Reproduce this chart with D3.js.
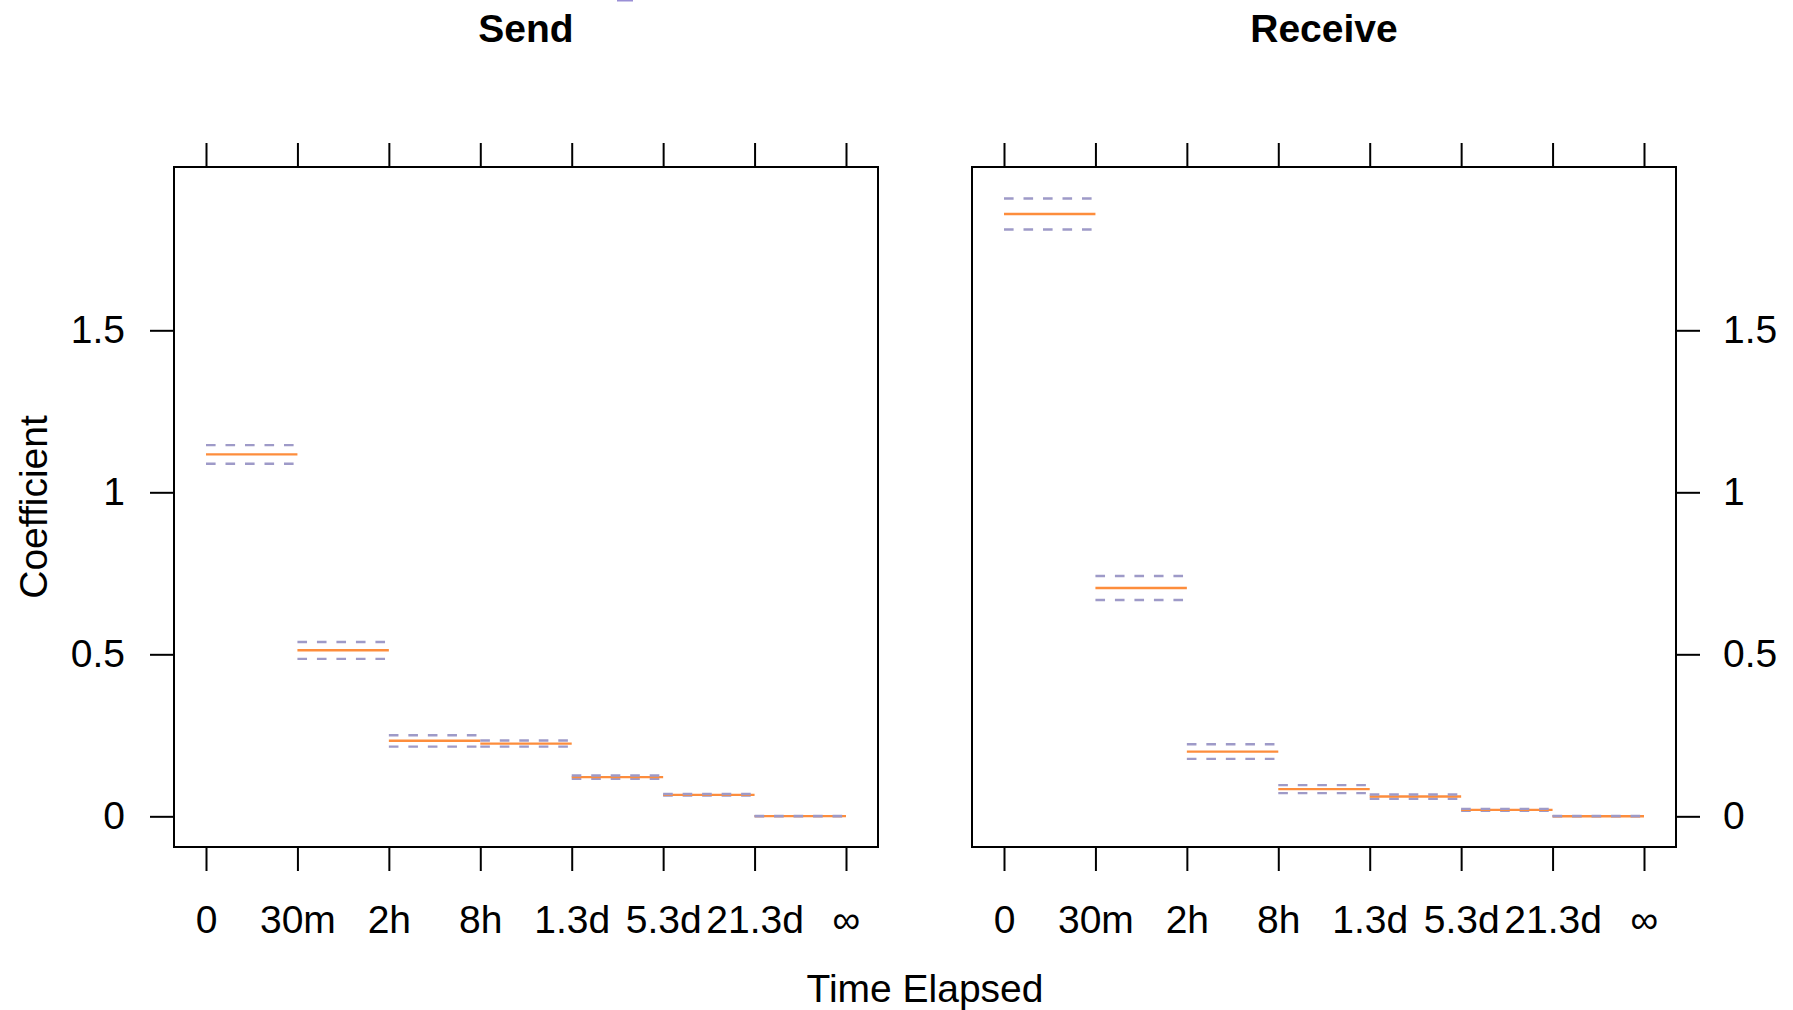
<!DOCTYPE html>
<html>
<head>
<meta charset="utf-8">
<script src="https://cdn.jsdelivr.net/npm/d3@7"></script>
<style>
    body { margin: 0; background: #fff; }
    svg { display: block; font-family: "Liberation Sans", Arial, Helvetica, sans-serif; }
</style>
</head>
<body>
<div id="chart"></div>
<script>
    // data
    const timeLabels = ['0', '30m', '2h', '8h', '1.3d', '5.3d', '21.3d', '\u221e'];
    const panelNames = ['Send', 'Receive'];
    const yTicks = [0, 0.5, 1, 1.5];

    const sendEst   = [1.117, 0.5125, 0.233, 0.2245, 0.121, 0.0663, 0.0006];
    const sendLower = [1.088, 0.486, 0.215, 0.215, 0.116, 0.064, 0.0];
    const sendUpper = [1.1455, 0.538, 0.250, 0.234, 0.126, 0.069, 0.001];

    const recvEst   = [1.859, 0.7046, 0.1998, 0.0839, 0.0611, 0.020, 0.0];
    const recvLower = [1.811, 0.6676, 0.1773, 0.0715, 0.054, 0.017, 0.0];
    const recvUpper = [1.907, 0.7416, 0.2226, 0.0962, 0.0672, 0.0231, 0.001];

    const series = [
        { est: sendEst, lower: sendLower, upper: sendUpper },
        { est: recvEst, lower: recvLower, upper: recvUpper }
    ];

    const width = 1793;
    const height = 1010;
    const fontSize = 39;
    const tickLen = 24;
    const orange = '#FD8D3C';
    const purple = '#9E9AC8';

    const panelLefts = [174, 972];
    const panelWidth = 704;
    const panelTop = 167;
    const panelBottom = 847;

    const svg = d3.select('#chart')
        .append('svg')
        .attr('width', width)
        .attr('height', height);

    svg.append('rect')
        .attr('width', width)
        .attr('height', height)
        .attr('fill', '#fff');

    //y scale shared by both panels
    const y = d3.scaleLinear()
        .domain([-0.0947, 2.004])
        .range([panelBottom, panelTop]);

    function styleAxis(g) {
        g.select('.domain').remove();
        g.selectAll('.tick line')
            .attr('stroke', '#000')
            .attr('stroke-width', 2);
        g.selectAll('.tick text')
            .attr('fill', '#000')
            .style('font-size', fontSize + 'px')
            .style('font-family', '"Liberation Sans", Arial, Helvetica, sans-serif');
    }

    function drawLines(g, x, values, steps, color, width, dash) {
        g.append('g')
            .selectAll('line')
            .data(steps)
            .join('line')
            .attr('x1', i => x(i))
            .attr('x2', i => x(i + 1))
            .attr('y1', i => y(values[i]))
            .attr('y2', i => y(values[i]))
            .attr('stroke', color)
            .attr('stroke-width', width)
            .attr('stroke-dasharray', dash);
    }

    panelNames.forEach((name, p) => {
        const left = panelLefts[p];
        const x = d3.scaleLinear()
            .domain([-0.35, 7.35])
            .range([left, left + panelWidth]);
        const idx = d3.range(timeLabels.length);

        //bottom axis with labels
        svg.append('g')
            .attr('transform', `translate(0,${panelBottom})`)
            .call(d3.axisBottom(x).tickValues(idx).tickSize(tickLen).tickPadding(34)
                .tickFormat(i => timeLabels[i]))
            .call(styleAxis);

        //top axis, ticks only
        svg.append('g')
            .attr('transform', `translate(0,${panelTop})`)
            .call(d3.axisTop(x).tickValues(idx).tickSize(tickLen).tickFormat(''))
            .call(styleAxis);

        //y axis alternates sides
        if (p === 0) {
            svg.append('g')
                .attr('transform', `translate(${left},0)`)
                .call(d3.axisLeft(y).tickValues(yTicks).tickSize(tickLen).tickPadding(25)
                    .tickFormat(d3.format('')))
                .call(styleAxis);
        } else {
            svg.append('g')
                .attr('transform', `translate(${left + panelWidth},0)`)
                .call(d3.axisRight(y).tickValues(yTicks).tickSize(tickLen).tickPadding(23)
                    .tickFormat(d3.format('')))
                .call(styleAxis);
        }

        //steps: lower band, estimate, upper band
        const s = series[p];
        const g = svg.append('g');
        const steps = d3.range(s.est.length);
        drawLines(g, x, s.lower, steps, purple, 2.4, '9.6,9.9');
        drawLines(g, x, s.est, steps, orange, 2.4, null);
        drawLines(g, x, s.upper, steps, purple, 2.4, '9.6,9.9');

        //panel border
        svg.append('rect')
            .attr('x', left)
            .attr('y', panelTop)
            .attr('width', panelWidth)
            .attr('height', panelBottom - panelTop)
            .attr('fill', 'none')
            .attr('stroke', '#000')
            .attr('stroke-width', 2);

        //strip title
        svg.append('text')
            .attr('x', left + panelWidth / 2)
            .attr('y', 42)
            .attr('text-anchor', 'middle')
            .style('font-size', '39px')
            .style('font-weight', 'bold')
            .text(name);
    });

    //clipped legend key at the top edge
    svg.append('rect')
        .attr('x', 617)
        .attr('y', 0)
        .attr('width', 16)
        .attr('height', 1.5)
        .attr('fill', '#9a8fd6');

    //axis titles
    svg.append('text')
        .attr('x', 925)
        .attr('y', 1002)
        .attr('text-anchor', 'middle')
        .style('font-size', fontSize + 'px')
        .text('Time Elapsed');

    svg.append('text')
        .attr('transform', 'translate(47,507) rotate(-90)')
        .attr('text-anchor', 'middle')
        .style('font-size', fontSize + 'px')
        .text('Coefficient');
</script>
</body>
</html>
